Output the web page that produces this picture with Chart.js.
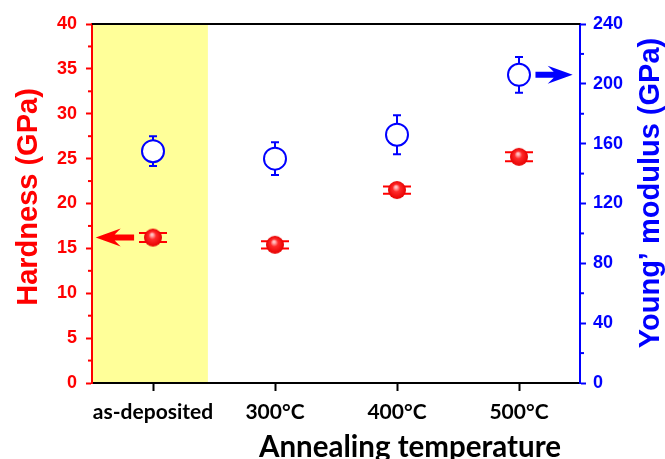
<!DOCTYPE html>
<html>
<head>
<meta charset="utf-8">
<script src="https://cdn.jsdelivr.net/npm/chart.js@4.4.1/dist/chart.umd.min.js"></script>
<style>
  html, body { margin: 0; padding: 0; background: #fff; }
  canvas { display: block; }
</style>
</head>
<body>
<canvas id="myChart" width="665" height="459"></canvas>
<script>
// 데이터
const categories = ['as-deposited', '300°C', '400°C', '500°C'];
const hardness = [16.2, 15.4, 21.5, 25.2];
const hardnessErr = [0.5, 0.4, 0.4, 0.5];
const modulus = [155, 150, 166, 206];
const modulusErr = [10, 11, 13, 12];
const hardnessTicks = [0, 5, 10, 15, 20, 25, 30, 35, 40];
const modulusTicks = [0, 40, 80, 120, 160, 200, 240];

const RED = '#ff0000';
const BLUE = '#0000ff';

// 빨간 구 모양 마커
function makeBall(r) {
  const c = document.createElement('canvas');
  c.width = c.height = r * 2 + 2;
  const g = c.getContext('2d');
  const cx = r + 1;
  const grad = g.createRadialGradient(cx - 1, cx - 3, 1, cx, cx, r);
  grad.addColorStop(0, '#ffc0c0');
  grad.addColorStop(0.35, '#ff2a2a');
  grad.addColorStop(1, '#e60000');
  g.fillStyle = grad;
  g.beginPath();
  g.arc(cx, cx, r, 0, Math.PI * 2);
  g.fill();
  return c;
}

function drawArrow(ctx, x0, x1, y, color) {
  // x0 = 꼬리, x1 = 머리
  const dir = Math.sign(x1 - x0);
  const head = 25;
  ctx.save();
  ctx.fillStyle = color;
  ctx.beginPath();
  ctx.moveTo(x0, y - 3);
  ctx.lineTo(x1 - dir * (head - 6), y - 3);
  ctx.lineTo(x1 - dir * head, y - 9);
  ctx.lineTo(x1, y);
  ctx.lineTo(x1 - dir * head, y + 9);
  ctx.lineTo(x1 - dir * (head - 6), y + 3);
  ctx.lineTo(x0, y + 3);
  ctx.closePath();
  ctx.fill();
  ctx.restore();
}

const decorPlugin = {
  id: 'decor',
  beforeDraw: (chart) => {
    const { ctx, chartArea } = chart;
    const x = chart.scales.x;
    // 노란 배경 (as-deposited 구간)
    ctx.save();
    ctx.fillStyle = '#ffff99';
    const xr = x.getPixelForValue(0.45);
    ctx.fillRect(chartArea.left, chartArea.top, xr - chartArea.left, chartArea.bottom - chartArea.top);
    ctx.restore();
  },
  beforeDatasetsDraw: (chart) => {
    const ctx = chart.ctx;
    const x = chart.scales.x, y = chart.scales.y, y1 = chart.scales.y1;
    ctx.save();
    ctx.lineWidth = 2;
    // 경도 에러바
    ctx.strokeStyle = RED;
    hardness.forEach((v, i) => {
      const px = x.getPixelForValue(i);
      const hi = y.getPixelForValue(v + hardnessErr[i]);
      const lo = y.getPixelForValue(v - hardnessErr[i]);
      ctx.beginPath();
      ctx.moveTo(px, hi); ctx.lineTo(px, lo);
      ctx.moveTo(px - 14, hi); ctx.lineTo(px + 14, hi);
      ctx.moveTo(px - 14, lo); ctx.lineTo(px + 14, lo);
      ctx.stroke();
    });
    // 탄성계수 에러바
    ctx.strokeStyle = BLUE;
    modulus.forEach((v, i) => {
      const px = x.getPixelForValue(i);
      const hi = y1.getPixelForValue(v + modulusErr[i]);
      const lo = y1.getPixelForValue(v - modulusErr[i]);
      ctx.beginPath();
      ctx.moveTo(px, hi); ctx.lineTo(px, lo);
      ctx.moveTo(px - 4, hi); ctx.lineTo(px + 4, hi);
      ctx.moveTo(px - 4, lo); ctx.lineTo(px + 4, lo);
      ctx.stroke();
    });
    ctx.restore();
  },
  afterDraw: (chart) => {
    const { ctx, chartArea } = chart;
    const x = chart.scales.x, y = chart.scales.y, y1 = chart.scales.y1;
    ctx.save();
    // 위쪽 테두리
    ctx.strokeStyle = '#000';
    ctx.lineWidth = 2;
    ctx.beginPath();
    ctx.moveTo(chartArea.left, chartArea.top);
    ctx.lineTo(chartArea.right, chartArea.top);
    ctx.stroke();

    // 보조 눈금
    ctx.strokeStyle = RED;
    for (let k = 0; k < hardnessTicks.length - 1; k++) {
      const py = y.getPixelForValue((hardnessTicks[k] + hardnessTicks[k + 1]) / 2);
      ctx.beginPath(); ctx.moveTo(chartArea.left - 4, py); ctx.lineTo(chartArea.left, py); ctx.stroke();
    }
    ctx.strokeStyle = BLUE;
    for (let k = 0; k < modulusTicks.length - 1; k++) {
      const py = y1.getPixelForValue((modulusTicks[k] + modulusTicks[k + 1]) / 2);
      ctx.beginPath(); ctx.moveTo(chartArea.right, py); ctx.lineTo(chartArea.right + 4, py); ctx.stroke();
    }

    // 화살표
    drawArrow(ctx, x.getPixelForValue(-0.155), x.getPixelForValue(-0.47), y.getPixelForValue(hardness[0]), RED);
    drawArrow(ctx, x.getPixelForValue(3.135), x.getPixelForValue(3.44), y1.getPixelForValue(modulus[3]), BLUE);

    // 축 제목
    ctx.textAlign = 'center';
    ctx.textBaseline = 'middle';
    ctx.font = 'bold 29px "Liberation Sans", Arial, sans-serif';
    ctx.fillStyle = RED;
    ctx.save();
    ctx.translate(29, 197);
    ctx.rotate(-Math.PI / 2);
    ctx.fillText('Hardness (GPa)', 0, 0);
    ctx.restore();
    ctx.fillStyle = BLUE;
    ctx.save();
    ctx.translate(651, 193);
    ctx.rotate(-Math.PI / 2);
    ctx.fillText('Young\u2019 modulus (GPa)', 0, 0);
    ctx.restore();
    ctx.fillStyle = '#000';
    ctx.textBaseline = 'alphabetic';
    ctx.font = 'bold 29.5px Lato, "Open Sans", sans-serif';
    ctx.fillText('Annealing temperature', 410, 457);
    ctx.restore();
  }
};

const ctx = document.getElementById('myChart').getContext('2d');
new Chart(ctx, {
  type: 'line',
  data: {
    labels: categories,
    datasets: [
      {
        label: 'Hardness',
        data: hardness,
        yAxisID: 'y',
        showLine: false,
        pointStyle: makeBall(9),
        pointRadius: 9,
      },
      {
        label: 'Young modulus',
        data: modulus,
        yAxisID: 'y1',
        showLine: false,
        pointStyle: 'circle',
        pointRadius: 11,
        borderColor: BLUE,
        backgroundColor: '#fff',
        pointBorderWidth: 2,
      },
    ],
  },
  options: {
    responsive: false,
    animation: false,
    devicePixelRatio: 1,
    layout: { padding: { top: 24, left: 0, right: 0, bottom: 0 } },
    plugins: { legend: { display: false }, tooltip: { enabled: false } },
    scales: {
      x: {
        type: 'category',
        offset: true,
        afterFit: (s) => { s.height = 76; },
        border: { color: '#000', width: 2 },
        grid: { drawOnChartArea: false, color: '#000', tickLength: 8, tickWidth: 2 },
        ticks: {
          color: '#000',
          padding: 9,
          autoSkip: false,
          maxRotation: 0,
          minRotation: 0,
          font: { family: 'Lato', weight: 'bold', size: 21 },
        },
      },
      y: {
        position: 'left',
        min: 0,
        max: 40,
        afterBuildTicks: (s) => { s.ticks = hardnessTicks.map((v) => ({ value: v })); },
        afterFit: (s) => { s.width = 92; },
        border: { color: RED, width: 2 },
        grid: { drawOnChartArea: false, color: RED, tickLength: 6, tickWidth: 2 },
        ticks: {
          color: RED,
          padding: 9,
          font: { family: 'Liberation Sans', weight: 'bold', size: 18 },
        },
      },
      y1: {
        position: 'right',
        min: 0,
        max: 240,
        afterBuildTicks: (s) => { s.ticks = modulusTicks.map((v) => ({ value: v })); },
        afterFit: (s) => { s.width = 85; },
        border: { color: BLUE, width: 2 },
        grid: { drawOnChartArea: false, color: BLUE, tickLength: 6, tickWidth: 2 },
        ticks: {
          color: BLUE,
          padding: 7,
          font: { family: 'Liberation Sans', weight: 'bold', size: 18 },
        },
      },
    },
  },
  plugins: [decorPlugin],
});
</script>
</body>
</html>
